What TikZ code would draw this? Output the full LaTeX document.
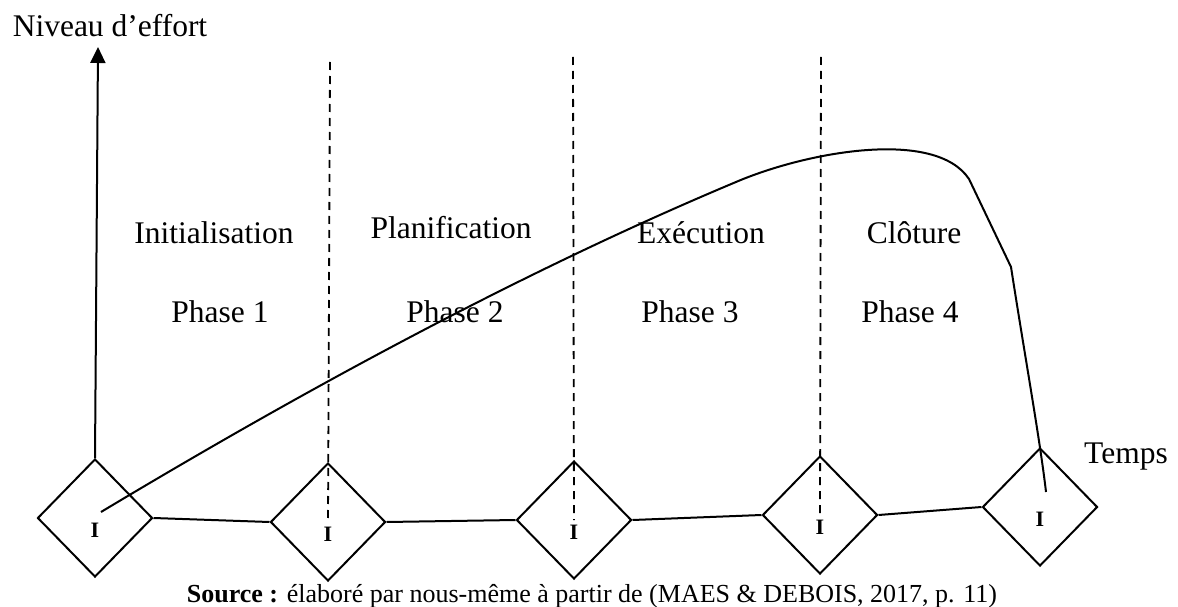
\documentclass[tikz,border=0pt]{standalone}
\usepackage{fontspec}
\setmainfont{Liberation Serif}
\usepackage{tikz}
\usetikzlibrary{shapes.geometric}
\usetikzlibrary{arrows.meta,arrows}
\usetikzlibrary{calc}
\usetikzlibrary{positioning}

\begin{document}
\begin{tikzpicture}[x=1pt,y=-1pt,>=latex']
        \tikzset{jalon/.style={draw, diamond, line width=2pt, inner sep=0pt,
            minimum width=115pt, minimum height=118pt,
            label={[font=\bfseries\fontsize{22}{26}\selectfont, yshift=-12.5pt]center:I}},
        txt/.style={font=\fontsize{31.5}{38}\selectfont, anchor=base, inner sep=0pt},
        sep/.style={line width=1.8pt, dash pattern=on 8pt off 6pt},
        trait/.style={line width=2pt},
        }
        \useasboundingbox (0,0) rectangle (1178,607);
        %% jalons
        \node [jalon] (j1) at (95,518) {};
        \node [jalon] (j2) at (328,522) {};
        \node [jalon] (j3) at (574,520) {};
        \node [jalon] (j4) at (820,515) {};
        \node [jalon] (j5) at (1040,507) {};
        \coordinate (axe) at (98,47);   %% top of the effort axis
        \coordinate (haut2) at (330,62);
        \coordinate (haut3) at (573,57);
        \coordinate (haut4) at (821,57);
        \coordinate (debut) at (101,512);  %% curve start inside j1
        \coordinate (fin) at (1046,492);   %% curve end inside j5
        %% texts
        \node [txt] (niveau) at (110,37) {Niveau d’effort};
        \node [txt] (temps) at (1126,463) {Temps};
        \node [txt] (init) at (214,243) {Initialisation};
        \node [txt] (plan) at (451,238) {Planification};
        \node [txt] (exec) at (701,243) {Exécution};
        \node [txt] (clot) at (914,243) {Clôture};
        \node [txt] (ph1) at (220,322) {Phase 1};
        \node [txt] (ph2) at (455,322) {Phase 2};
        \node [txt] (ph3) at (690,322) {Phase 3};
        \node [txt] (ph4) at (910,322) {Phase 4};
        \node [txt, font=\fontsize{26}{31}\selectfont] (source) at (592,602)
            {\textbf{Source :} élaboré par nous-même à partir de (MAES \& DEBOIS, 2017, p. 11)};

%% paths
        \draw[trait, -{Triangle[width=15pt,length=16pt]}] (j1.north) -- (axe);
        \path[draw, trait] (j1.east) -- (j2.west)
                    (j2.east) -- (j3.west)
                    (j3.east) -- (j4.west)
                    (j4.east) -- (j5.west);
        \draw[sep] (haut2) -- (j2.center);
        \draw[sep] (haut3) -- (j3.center);
        \draw[sep] (haut4) -- (j4.center);
        \draw[trait] (debut) .. controls (311,386) and (526,270) .. (736,182)
                    .. controls (806,152) and (935,128) .. (969,179)
                    -- (1011,267) .. controls (1025,357) and (1040,440) .. (fin);
    \end{tikzpicture}
\end{document}
